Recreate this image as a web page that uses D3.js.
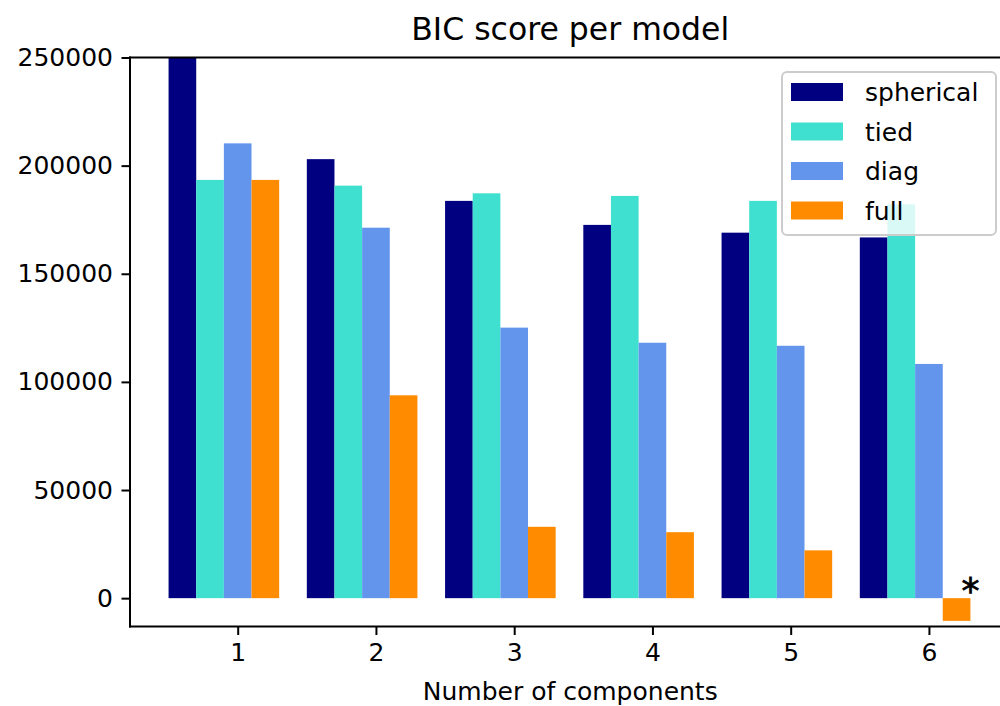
<!DOCTYPE html>
<html>
<head>
<meta charset="utf-8">
<script src="https://cdn.jsdelivr.net/npm/d3@7"></script>
<style>
  html, body { margin: 0; padding: 0; background: #fff; }
  svg { display: block; }
  text { font-family: "DejaVu Sans", sans-serif; fill: #000; }
</style>
</head>
<body>
<svg id="chart" width="1000" height="706"></svg>
<script>
// ---- data ----
const components = [1, 2, 3, 4, 5, 6];
const modelTypes = ["spherical", "tied", "diag", "full"];
const colors = ["#000080", "#40E0D0", "#6495ED", "#FF8C00"];
const spherical = [250000, 203000, 183700, 172600, 169000, 166800];
const tied      = [193400, 190750, 187200, 186000, 183700, 182100];
const diag      = [210300, 171300, 125100, 118100, 116700, 108300];
const full      = [193400, 93800, 33000, 30500, 22100, -10500];
const yTicks = [0, 50000, 100000, 150000, 200000, 250000];
const titleText = "BIC score per model";
const xLabelText = "Number of components";

(function () {
const series = [spherical, tied, diag, full];
const allVals = series.flat();
const bicMin = d3.min(allVals), bicMax = d3.max(allVals);

// ---- layout ----
const mLeft = 130, mRight = 1010.5, mTop = 57.5, mBottom = 626.5;
const svg = d3.select("#chart");

const x = d3.scaleLinear().domain([0.221, 6.59]).range([mLeft, mRight]);
const y = d3.scaleLinear().domain([bicMin * 1.01 - 0.01 * bicMax, bicMax]).range([mBottom, mTop]);

// bars
const barW = 0.2;
series.forEach((vals, i) => {
  svg.append("g").selectAll("rect")
    .data(vals.map((v, j) => ({ v, c: components[j] })))
    .join("rect")
    .attr("x", d => x(d.c + 0.2 * (i - 2) - barW / 2))
    .attr("width", d => x(d.c + 0.2 * (i - 2) + barW / 2) - x(d.c + 0.2 * (i - 2) - barW / 2))
    .attr("y", d => y(Math.max(0, d.v)))
    .attr("height", d => Math.abs(y(d.v) - y(0)))
    .attr("fill", colors[i]);
});

// star at best model
const argmin = allVals.indexOf(bicMin);
const starX = (argmin % components.length) + 0.65 + 0.2 * Math.floor(argmin / components.length);
const starY = bicMin * 0.97 + 0.03 * bicMax;
svg.append("text")
  .attr("x", x(starX) - 2).attr("y", y(starY) - 1)
  .attr("font-size", 36)
  .attr("stroke", "#000").attr("stroke-width", 0.8)
  .text("*");

// spines
const spine = svg.append("g").attr("stroke", "#000").attr("stroke-width", 2).attr("fill", "none");
spine.append("line").attr("x1", mLeft).attr("x2", mLeft).attr("y1", mTop).attr("y2", mBottom).attr("stroke-linecap", "square");
spine.append("line").attr("x1", mLeft).attr("x2", mRight).attr("y1", mBottom).attr("y2", mBottom).attr("stroke-linecap", "square");
spine.append("line").attr("x1", mLeft).attr("x2", mRight).attr("y1", mTop).attr("y2", mTop).attr("stroke-linecap", "square");
spine.append("line").attr("x1", mRight).attr("x2", mRight).attr("y1", mTop).attr("y2", mBottom);

// y axis
const yAxis = d3.axisLeft(y).tickValues(yTicks).tickFormat(d3.format("d")).tickSize(8.5).tickPadding(8.5);
const gy = svg.append("g").attr("transform", `translate(${mLeft},0)`).call(yAxis);
gy.select(".domain").remove();
gy.selectAll(".tick line").attr("stroke", "#000").attr("stroke-width", 2);
gy.selectAll(".tick text").attr("font-size", 25).attr("font-family", "DejaVu Sans").attr("fill", "#000");

// x axis
const xAxis = d3.axisBottom(x).tickValues(components).tickFormat(d3.format("d")).tickSize(8.5).tickPadding(8.5);
const gx = svg.append("g").attr("transform", `translate(0,${mBottom})`).call(xAxis);
gx.select(".domain").remove();
gx.selectAll(".tick line").attr("stroke", "#000").attr("stroke-width", 2);
gx.selectAll(".tick text").attr("font-size", 25).attr("font-family", "DejaVu Sans").attr("fill", "#000");

// title and label
svg.append("text").attr("x", (mLeft + mRight) / 2).attr("y", 40)
  .attr("text-anchor", "middle").attr("font-size", 31.5).text(titleText);
svg.append("text").attr("x", (mLeft + mRight) / 2).attr("y", 700)
  .attr("text-anchor", "middle").attr("font-size", 25).text(xLabelText);

// legend
const lg = svg.append("g");
lg.append("rect").attr("x", 782).attr("y", 72).attr("width", 214).attr("height", 163)
  .attr("rx", 5).attr("fill", "#fff").attr("fill-opacity", 0.8)
  .attr("stroke", "#cccccc").attr("stroke-width", 2);
const rowY = d3.scaleLinear().domain([0, 3]).range([92, 210.5]);
modelTypes.forEach((name, i) => {
  lg.append("rect").attr("x", 791).attr("y", rowY(i) - 9).attr("width", 52).attr("height", 18)
    .attr("fill", colors[i]);
  lg.append("text").attr("x", 865).attr("y", rowY(i)).attr("dy", "0.36em")
    .attr("font-size", 25).text(name);
});
})();
</script>
</body>
</html>
